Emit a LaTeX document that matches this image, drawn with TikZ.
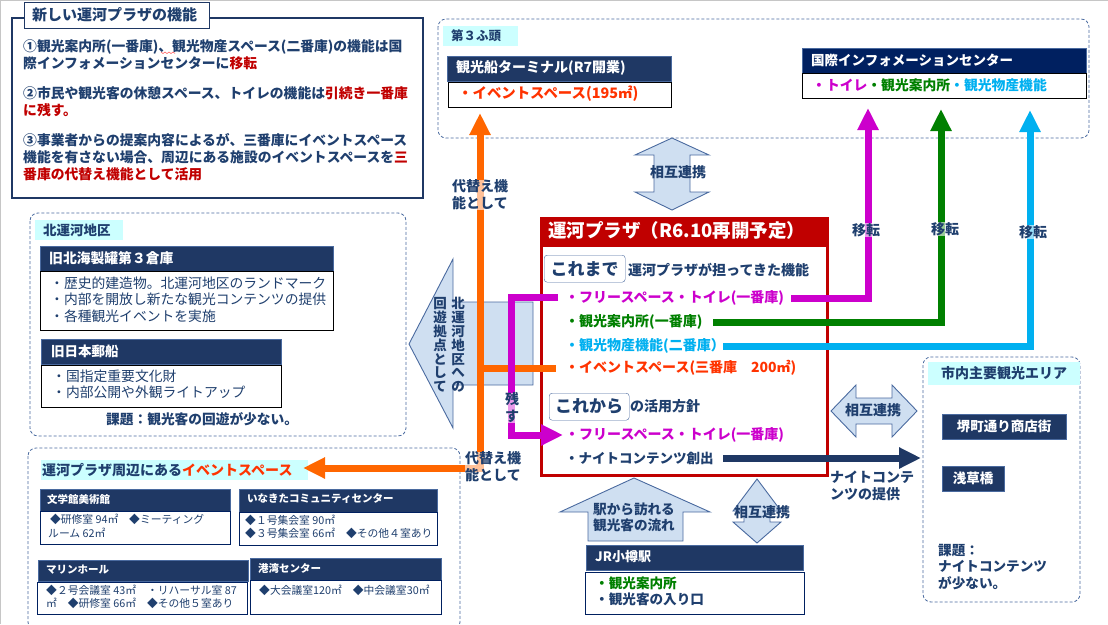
\documentclass[tikz,border=0pt]{standalone}
\usepackage{fontspec}
\setmainfont{Noto Sans CJK JP}
\usetikzlibrary{arrows.meta}
\definecolor{navy}{HTML}{1F3864}
\definecolor{deepnavy}{HTML}{002060}
\definecolor{textblue}{HTML}{1F3F6E}
\definecolor{plazared}{HTML}{C00000}
\definecolor{evred}{HTML}{FF3300}
\definecolor{pipeor}{HTML}{FF6600}
\definecolor{pipema}{HTML}{CC00CC}
\definecolor{pipegr}{HTML}{008000}
\definecolor{pipecy}{HTML}{00B0F0}
\definecolor{tagcyan}{HTML}{CCFFFF}
\definecolor{blockfill}{HTML}{CFDFF1}
\definecolor{blockline}{HTML}{4A6A9F}
\newcommand{\fsz}[2]{\fontsize{#1}{#2}\selectfont}
\tikzset{
lab/.style={anchor=west,inner sep=0pt,align=left,text=textblue,font=\fsz{14}{17}\bfseries},
pointlab/.style={lab,font=\fsz{13.8}{17.2}\bfseries},
thinlab/.style={lab,font=\fsz{13.8}{16.5}},
smalllab/.style={lab,font=\fsz{10.8}{13.2}},
area/.style={draw=blockline,densely dashed,rounded corners=8pt,line width=.8pt},
tagbox/.style={anchor=north west,fill=tagcyan,inner sep=0pt,minimum width=#1,minimum height=20pt},
head/.style={draw=blockline,fill=navy,line width=.8pt},
body/.style={draw=black,fill=white,line width=1pt},
headlab/.style={lab,text=white,font=\fsz{13.5}{16}\bfseries},
block/.style={draw=blockline,fill=blockfill,line width=.9pt},
pipe/.style={line width=7pt,>={Triangle[width=20pt,length=22pt]}},
veil/.style={lab,anchor=center,align=center,fill=white,fill opacity=.6,text opacity=1},
}
\begin{document}
\begin{tikzpicture}[x=1pt,y=-1pt]
\useasboundingbox (0,0) rectangle (1108,624);
\draw[gray!45,line width=1pt] (0.5,624) -- (0.5,0.5) -- (1108,0.5);

\draw[navy,line width=1.6pt] (12,18) rectangle (423,198);
\draw[navy,fill=white,line width=1pt] (24,2) rectangle (209,28);
\node[lab,font=\fsz{15}{18}\bfseries] (title) at (32,15) {新しい運河プラザの機能};
\node[pointlab] (point1) at (23,55) {①観光案内所(一番庫)、観光物産スペース(二番庫)の機能は国\\際インフォメーションセンターに\textcolor{plazared}{移転}};
\draw[red!70,line width=.5pt] (161,52) -- (163,53.5) -- (165,52) -- (167,53.5) -- (169,52) -- (171,53.5) -- (173,52) -- (175,53.5);
\node[pointlab] (point2) at (23,102) {②市民や観光客の休憩スペース、トイレの機能は\textcolor{plazared}{引続き一番庫}\\\textcolor{plazared}{に残す。}};
\node[pointlab] (point3) at (23,157) {③事業者からの提案内容によるが、三番庫にイベントスペース\\機能を有さない場合、周辺にある施設のイベントスペースを\textcolor{plazared}{三}\\\textcolor{plazared}{番庫の代替え機能として活用}};

\draw[area] (30,213) rectangle (406,436);
\node[tagbox=88pt] (northtag) at (35,220) {};
\node[lab,font=\fsz{13.5}{16}\bfseries] (northname) at (43,230) {北運河地区};
\draw[head] (40,246) rectangle (333,271);
\draw[body] (40,271) rectangle (333,330);
\node[headlab,font=\fsz{13.8}{16}\bfseries] (sugar) at (49,258) {旧北海製罐第３倉庫};
\node[thinlab] (sugartext) at (50,299.5) {・歴史的建造物。北運河地区のランドマーク\\・内部を開放し新たな観光コンテンツの提供\\・各種観光イベントを実施};
\draw[head] (41,339) rectangle (281,364);
\draw[body] (41,365) rectangle (281,407);
\node[headlab] (yusen) at (51,351) {旧日本郵船};
\node[thinlab] (yusentext) at (52,384.5) {・国指定重要文化財\\・内部公開や外観ライトアップ};
\node[lab,font=\fsz{13.7}{16}\bfseries] (northissue) at (106,419) {課題：観光客の回遊が少ない。};

\draw[area] (28,448) rectangle (460,630);
\node[tagbox=267pt] (eventtag) at (41,460) {};
\node[lab,font=\fsz{14}{17}\bfseries] (eventname) at (42,470) {運河プラザ周辺にある\textcolor{evred}{イベントスペース}};
\draw[head] (40,489) rectangle (230,511);
\draw[deepnavy,fill=white,line width=1pt] (40,511) rectangle (230,544);
\node[headlab,font=\fsz{10.5}{13}\bfseries] (bungaku) at (47,499) {文学館美術館};
\node[smalllab] (bungakutext) at (48,526) {\,◆研修室 94㎡　◆ミーティング\\ルーム 62㎡};
\draw[head] (239,489) rectangle (437,512);
\draw[deepnavy,fill=white,line width=1pt] (239,512) rectangle (437,545);
\node[headlab,font=\fsz{10.5}{13}\bfseries] (inakita) at (247,499) {いなきたコミュニティセンター};
\node[smalllab] (inakitatext) at (245,527) {◆１号集会室 90㎡\\◆３号集会室 66㎡　◆その他４室あり};
\draw[head] (38,560) rectangle (248,581);
\draw[deepnavy,fill=white,line width=1pt] (37,582) rectangle (247,614);
\node[headlab,font=\fsz{10.5}{13}\bfseries] (marine) at (46,570) {マリンホール};
\node[smalllab] (marinetext) at (46,597) {◆２号会議室 43㎡　・リハーサル室 87\\㎡　◆研修室 66㎡　◆その他５室あり};
\draw[head] (250,558) rectangle (441,580);
\draw[deepnavy,fill=white,line width=1pt] (250,580) rectangle (441,614);
\node[headlab,font=\fsz{10.5}{13}\bfseries] (kowan) at (258,569) {港湾センター};
\node[smalllab] (kowantext) at (259,590) {◆大会議室120㎡　◆中会議室30㎡};

\draw[area] (438,19) rectangle (1089,138);
\node[tagbox=75pt] (pier) at (443,26) {};
\node[lab,font=\fsz{12.5}{15}\bfseries] (piername) at (451,36) {第３ふ頭};
\draw[head] (447,56) rectangle (671,81);
\draw[body] (448,82) rectangle (671,107);
\node[headlab,font=\fsz{14}{16}\bfseries] (terminal) at (456,68) {観光船ターミナル(R7開業)};
\node[lab,text=evred,font=\fsz{14.4}{17}\bfseries] (terminaltext) at (458,94) {・イベントスペース(195㎡)};
\draw[head,fill=deepnavy] (802,48) rectangle (1086,73);
\draw[body] (802,73) rectangle (1086,98);
\node[headlab] (intl) at (811,60) {国際インフォメーションセンター};
\node[pointlab] (intltext) at (812,85) {\textcolor{pipema}{・トイレ}\textcolor{pipegr}{・観光案内所}\textcolor{pipecy}{・観光物産機能}};

\draw[block] (672,138) -- (709,155) -- (690,155) -- (690,192) -- (709,192) -- (672,210) -- (635,192) -- (654,192) -- (654,155) -- (635,155) -- cycle;
\node[lab,anchor=center] (link1) at (678,172) {相互連携};

\draw[block] (409,344) -- (453,259) -- (453,302) -- (533,302) -- (533,385) -- (453,385) -- (453,428) -- cycle;

\draw[draw=plazared,fill=white,line width=3pt] (541,218) rectangle (827,475);
\fill[plazared] (540,217) rectangle (828,247);
\node[headlab,font=\fsz{18.5}{21}\bfseries] (plaza) at (548,230) {運河プラザ（R6.10再開予定）};
\node[lab,draw=blockline,fill=white,rounded corners=3pt,anchor=north west,minimum width=81pt,minimum height=27pt,align=center,font=\fsz{17}{20}\bfseries] (sofar) at (544,255) {これまで};
\node[lab] (sofartext) at (628,270) {運河プラザが担ってきた機能};
\node[lab,text=pipema] (free1) at (565,298) {・フリースペース・トイレ(一番庫)};
\node[lab,text=pipegr] (info1) at (565,322) {・観光案内所(一番庫)};
\node[lab,text=pipecy] (goods1) at (565,346) {・観光物産機能(二番庫）};
\node[lab,text=evred] (event1) at (565,368) {・イベントスペース(三番庫　200㎡)};
\node[lab,draw=blockline,fill=white,rounded corners=3pt,anchor=north west,minimum width=80pt,minimum height=27pt,align=center,font=\fsz{17}{20}\bfseries] (from) at (549,393) {これから};
\node[lab] (fromtext) at (630,406) {の活用方針};
\node[lab,text=pipema] (free2) at (565,435) {・フリースペース・トイレ(一番庫)};
\node[lab,font=\fsz{13.5}{16}\bfseries] (night1) at (565,458) {・ナイトコンテンツ創出};

\draw[block] (634,478) -- (710,512) -- (683,512) -- (683,541) -- (588,541) -- (588,512) -- (560,512) -- cycle;
\node[lab,anchor=center,align=center,font=\fsz{13.6}{16}\bfseries] (flow) at (634,517) {駅から訪れる\\観光客の流れ};
\draw[block] (757,479) -- (781,511) -- (770,511) -- (770,522) -- (781,522) -- (757,543) -- (733,522) -- (744,522) -- (744,511) -- (733,511) -- cycle;
\node[lab,anchor=center] (link2) at (762,512) {相互連携};
\draw[head] (586,545) rectangle (803,570);
\draw[deepnavy,fill=white,line width=1pt] (585,572) rectangle (804,614);
\node[headlab,font=\fsz{13}{16}\bfseries] (station) at (595,557) {JR小樽駅};
\node[lab,font=\fsz{13.6}{16.5}\bfseries] (stationtext) at (595,591.5) {\textcolor{pipegr}{・観光案内所}\\・観光客の入り口};

\draw[block] (831,411) -- (856,385) -- (856,398) -- (892,398) -- (892,385) -- (917,411) -- (892,437) -- (892,424) -- (856,424) -- (856,437) -- cycle;
\node[lab,anchor=center] (link3) at (873,410) {相互連携};

\draw[area] (923,357) rectangle (1080,602);
\node[tagbox=152pt,minimum height=23pt] (citytag) at (928,362) {};
\node[lab] (cityname) at (941,373) {市内主要観光エリア};
\node[headlab,draw=blockline,fill=navy,anchor=north west,minimum width=124pt,minimum height=25pt,inner xsep=8pt,align=left] (sakai) at (942,414) {堺町通り商店街};
\node[headlab,draw=blockline,fill=navy,anchor=north west,minimum width=62pt,minimum height=25pt,inner xsep=8pt,align=left] (asakusa) at (942,466) {浅草橋};
\node[lab,font=\fsz{13.6}{16.5}\bfseries] (cityissue) at (938,567) {課題：\\ナイトコンテンツ\\が少ない。};

\coordinate (orangetop) at (480,113);
\coordinate (orangeleft) at (303,468);
\coordinate (orangeend) at (556,368);
\coordinate (orangejoin) at (480,368);
\coordinate (orangecorner) at (480,468);
\draw[pipe,pipeor,<->] (orangetop) -- (orangecorner) -- (orangeleft);
\draw[pipe,pipeor] (orangejoin) -- (orangeend);

\coordinate (stay0) at (558,297);
\coordinate (stay1) at (511,297);
\coordinate (stay2) at (511,435);
\coordinate (stay3) at (563,435);
\draw[pipe,pipema,->] (stay0) -- (stay1) -- (stay2) -- (stay3);

\coordinate (move0) at (791,298);
\coordinate (move1) at (868,298);
\coordinate (move2) at (868,108);
\draw[pipe,pipema,->] (move0) -- (move1) -- (move2);
\coordinate (move3) at (713,322);
\coordinate (move4) at (941,322);
\coordinate (move5) at (941,109);
\draw[pipe,pipegr,->] (move3) -- (move4) -- (move5);
\coordinate (move6) at (723,346);
\coordinate (move7) at (1030,346);
\coordinate (move8) at (1030,110);
\draw[pipe,pipecy,->] (move6) -- (move7) -- (move8);

\coordinate (night2) at (723,458);
\coordinate (night3) at (921,458);
\draw[pipe,navy,->] (night2) -- (night3);

\node[veil] (alt1) at (480,195) {代替え機\\能として};
\node[veil] (alt2) at (493,467) {代替え機\\能として};
\node[veil] (stay) at (512,408) {残\\す};
\node[veil] (shift1) at (866,230) {移転};
\node[veil] (shift2) at (945,229) {移転};
\node[veil] (shift3) at (1033,232) {移転};
\node[lab,anchor=center,align=left] (nightlab) at (872,486) {ナイトコンテ\\ンツの提供};
\node[lab,anchor=center,align=center,font=\fsz{13.5}{13.8}\bfseries] (vert1) at (458,345) {北\\運\\河\\地\\区\\へ\\の};
\node[lab,anchor=center,align=center,font=\fsz{13.5}{13.8}\bfseries] (vert2) at (440,345) {回\\遊\\拠\\点\\と\\し\\て};
\end{tikzpicture}
\end{document}
